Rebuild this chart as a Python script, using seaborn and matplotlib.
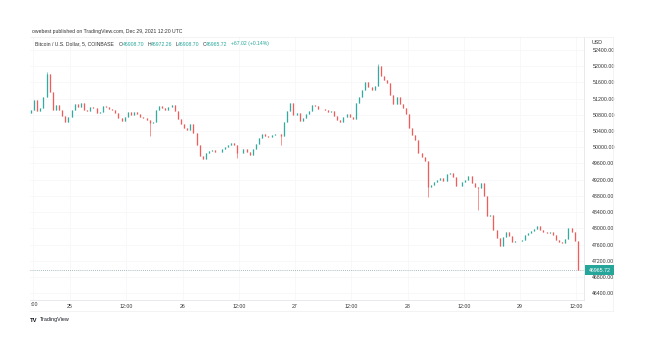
import numpy as np
import pandas as pd
import matplotlib
matplotlib.use("Agg")
import matplotlib.pyplot as plt
from matplotlib.lines import Line2D
from matplotlib.patches import Rectangle
import seaborn as sns

# ---------------- data (40-minute candles, Dec 24 15:40 -> Dec 29 12:20 UTC) ----------------
closes = [
    50920, 51170, 50900, 50970, 51240, 51810, 51365, 50920, 51045, 50920,
    50775, 50625, 50750, 50920, 51070, 50995, 51095, 50920, 50895, 50995,
    50970, 50845, 50870, 51020, 50995, 50945, 50920, 50845, 50725, 50650,
    50750, 50870, 50800, 50870, 50820, 50750, 50725, 50675, 50600, 50625,
    50920, 51020, 50970, 50920, 50995, 51045, 50895, 50700, 50575, 50475,
    50425, 50575, 50355, 50055, 49785, 49710, 49860, 49910, 49935, 49885,
    49885, 49960, 50010, 50055, 50105, 50055, 49860, 49860, 49960, 49885,
    49810, 49960, 50080, 50230, 50330, 50280, 50255, 50305, 50330, 50330,
    50280, 50625, 50895, 51095, 50800, 50845, 50650, 50725, 50820, 50895,
    51045, 51020, 50945, 50945, 50920, 50870, 50895, 50775, 50675, 50625,
    50750, 50820, 50750, 50700, 51095, 51240, 51415, 51610, 51490, 51415,
    51515, 52005, 51760, 51660, 51590, 51290, 51070, 51240, 51070, 50970,
    50820, 50475, 50305, 50180, 49860, 49760, 49660, 49020, 49070, 49145,
    49195, 49240, 49170, 49340, 49365, 49265, 49045, 49045, 49145, 49195,
    49290, 49120, 49020, 49000, 49120, 48800, 48305, 48330, 47960, 47760,
    47565, 47785, 47910, 47810, 47660, 47685, 47685, 47710, 47835, 47885,
    47935, 47985, 48055, 47960, 47910, 47885, 47910, 47835, 47710, 47660,
    47635, 47735, 48010, 47910, 47685, 46965.72,
]
first_open = 50850
wick_idx = [38, 66, 80, 127, 143, 5, 111]
wick_val = [50280, 49735, 50055, 48780, 48450, 51850, 52060]

times = pd.date_range("2021-12-24 15:40", periods=len(closes), freq="40min")

price_ticks = list(range(46400, 52401, 400))
time_ticks = ["2021-12-25 00:00", "2021-12-25 12:00", "2021-12-26 00:00", "2021-12-26 12:00",
              "2021-12-27 00:00", "2021-12-27 12:00", "2021-12-28 00:00", "2021-12-28 12:00",
              "2021-12-29 00:00", "2021-12-29 12:00"]
time_labels = ["25", "12:00", "26", "12:00", "27", "12:00", "28", "12:00", "29", "12:00"]

header1 = "owebest published on TradingView.com, Dec 29, 2021 12:20 UTC"
legend_name = "Bitcoin / U.S. Dollar, 5, COINBASE"
ohlc_parts = [("O", "46908.70"), ("H", "46972.26"), ("L", "46908.70"), ("C", "46965.72")]
change_txt = "+67.02 (+0.14%)"
last_price = 46965.72

UP = "#26a69a"
DOWN = "#ef5350"

# ---------------- build candles ----------------
opens = [first_open] + closes[:-1]
highs = [max(o, c) for o, c in zip(opens, closes)]
lows = [min(o, c) for o, c in zip(opens, closes)]
for i, v in zip(wick_idx, wick_val):
    if v < lows[i]:
        lows[i] = v
    if v > highs[i]:
        highs[i] = v

rows_w, rows_b = [], []
for i, (t, o, h, l, c) in enumerate(zip(times, opens, highs, lows, closes)):
    d = "up" if c >= o else "down"
    rows_w += [dict(t=t, p=l, id=i, d=d), dict(t=t, p=h, id=i, d=d)]
    rows_b += [dict(t=t, p=o, id=i, d=d), dict(t=t, p=c, id=i, d=d)]
wick_df = pd.DataFrame(rows_w)
body_df = pd.DataFrame(rows_b)

# ---------------- figure ----------------
sns.set_style("white")
plt.rcParams["font.family"] = ["Liberation Sans", "DejaVu Sans"]
W, H = 646, 344
fig = plt.figure(figsize=(W / 100, H / 100), dpi=100)

def fx(px):
    return px / W

def fy(py):
    return 1 - py / H

ax = fig.add_axes([fx(30), fy(300), fx(584) - fx(30), fy(37) - fy(300)])

pal = {"up": UP, "down": DOWN}
sns.lineplot(data=wick_df, x="t", y="p", units="id", estimator=None, hue="d",
             palette=pal, linewidth=0.5, legend=False, sort=False, ax=ax, alpha=0.85)
sns.lineplot(data=body_df, x="t", y="p", units="id", estimator=None, hue="d",
             palette=pal, linewidth=0.95, legend=False, sort=False, ax=ax, alpha=0.85)
for ln in ax.lines:
    ln.set_solid_capstyle("butt")

t0 = pd.Timestamp("2021-12-24 15:28")
t1 = pd.Timestamp("2021-12-29 13:39")
ax.set_xlim(t0, t1)
ax.set_ylim(46230, 52723)

ax.yaxis.tick_right()
ax.set_yticks(price_ticks)
ax.set_yticklabels([f"{v:.2f}" for v in price_ticks])
ax.set_xticks(pd.to_datetime(time_ticks))
ax.set_xticklabels(time_labels)
ax.tick_params(axis="both", length=0, labelsize=3.8, labelcolor="#333333")
ax.tick_params(axis="y", pad=6)
ax.tick_params(axis="x", pad=3)
ax.set_xlabel("")
ax.set_ylabel("")
ax.grid(True, color="#f5f6f8", linewidth=0.5)
ax.axvline(pd.Timestamp("2021-12-24 16:00"), color="#f5f6f8", linewidth=0.5, zorder=0)
for s in ["top", "left"]:
    ax.spines[s].set_visible(False)
for s in ["bottom", "right"]:
    ax.spines[s].set_color("#e3e5ea")
    ax.spines[s].set_linewidth(0.6)

# last price dotted line
ax.axhline(last_price, color="#8aa9a6", linewidth=0.6, linestyle=(0, (1, 1.5)), zorder=1)

# truncated first time label
fig.text(fx(31), fy(305), ":00", fontsize=3.8, color="#333333", ha="left", va="center")

# outer pane lines
for (xa, ya, xb, yb) in [(30, 37, 613, 37), (30, 311, 613, 311), (613, 37, 613, 311)]:
    fig.add_artist(Line2D([fx(xa), fx(xb)], [fy(ya), fy(yb)], color="#eceef1", linewidth=0.5))

# price label box
fig.add_artist(Rectangle((fx(585), fy(275)), fx(614) - fx(585), fy(265) - fy(275),
                         facecolor=UP, edgecolor="none", zorder=5))
fig.text(fx(599.5), fy(270), f"{last_price:.2f}", fontsize=3.8, color="white",
         ha="center", va="center", zorder=6)

# USD
fig.text(fx(597), fy(43), "USD", fontsize=3.8, color="#333333", ha="center", va="center")

# header lines
fig.text(fx(32), fy(31), header1, fontsize=3.7, color="#333333", ha="left", va="center")
x = 35
tname = fig.text(fx(x), fy(44), legend_name, fontsize=3.7, color="#333333", ha="left", va="center")
fig.canvas.draw()
r = fig.canvas.get_renderer()
x += tname.get_window_extent(r).width + 5
for lab, val in ohlc_parts:
    t = fig.text(fx(x), fy(44), lab, fontsize=3.7, color="#333333", ha="left", va="center")
    x += t.get_window_extent(r).width
    t = fig.text(fx(x), fy(44), val, fontsize=3.7, color=UP, ha="left", va="center")
    x += t.get_window_extent(r).width + 3
fig.text(fx(x), fy(44), change_txt, fontsize=3.7, color=UP, ha="left", va="center")

# TradingView logo text
fig.text(fx(30), fy(320), "TV", fontsize=4.2, color="#131722", ha="left", va="center", weight="bold")
fig.text(fx(39.5), fy(320), "TradingView", fontsize=3.9, color="#131722", ha="left", va="center")

fig.savefig("out.png", dpi=100)
